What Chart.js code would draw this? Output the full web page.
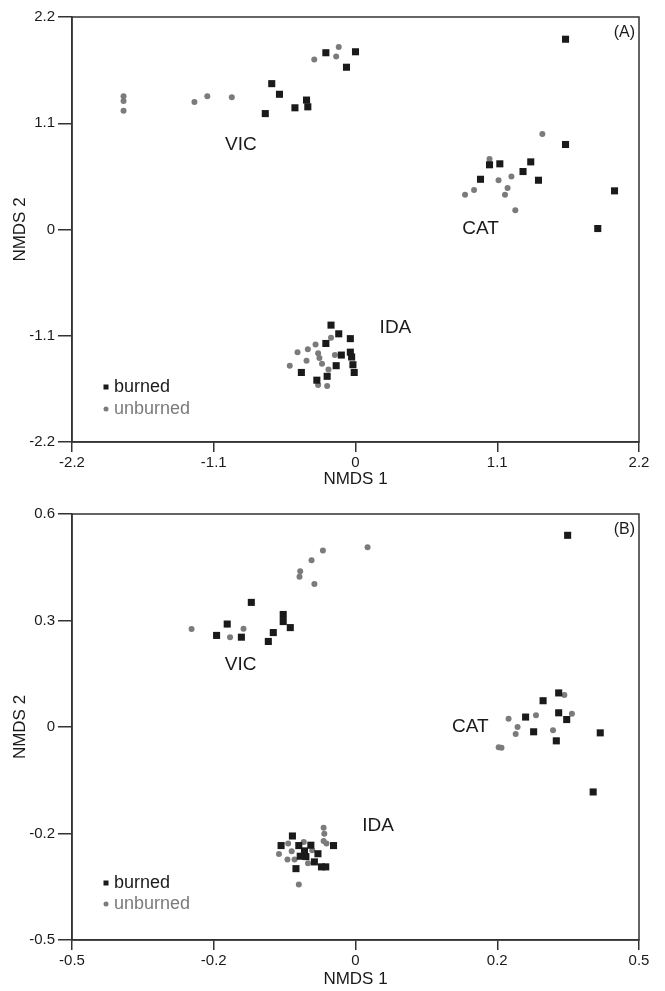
<!DOCTYPE html>
<html>
<head>
<meta charset="utf-8">
<script src="https://cdn.jsdelivr.net/npm/chart.js@4.4.1/dist/chart.umd.min.js"></script>
<style>
  body { margin: 0; background: #fff; }
  canvas { position: absolute; left: 0; }
  #chartA { top: 0; }
  #chartB { top: 495px; }
</style>
</head>
<body>
<canvas id="chartA" width="665" height="495"></canvas>
<canvas id="chartB" width="665" height="496"></canvas>
<script>
// panel A tick labels (linear axes)
const aTicks = [-2.2, -1.1, 0, 1.1, 2.2];

// panel B tick labels (equally spaced on the page, uneven values)
const bXTicks = [-0.5, -0.2, 0, 0.2, 0.5];
const bYTicks = [-0.5, -0.2, 0, 0.3, 0.6];

// panel A scores [NMDS 1, NMDS 2]
const burnedA = [
  // VIC
  [-0.23, 1.83], [0.0, 1.84], [-0.07, 1.68], [-0.65, 1.51], [-0.59, 1.40], [-0.70, 1.20], [-0.47, 1.26], [-0.38, 1.34], [-0.37, 1.27],
  // CAT
  [1.63, 1.97], [1.63, 0.88], [2.01, 0.40], [1.88, 0.01], [1.04, 0.67], [1.12, 0.68], [1.36, 0.70], [1.30, 0.60], [0.97, 0.52], [1.42, 0.51],
  // IDA
  [-0.19, -0.99], [-0.13, -1.08], [-0.04, -1.13], [-0.23, -1.18], [-0.04, -1.27], [-0.11, -1.30], [-0.03, -1.32], [-0.15, -1.41], [-0.02, -1.40], [-0.01, -1.48], [-0.42, -1.48], [-0.22, -1.52], [-0.30, -1.56]
];
const unburnedA = [
  // VIC
  [-1.80, 1.38], [-1.80, 1.33], [-1.80, 1.23], [-1.25, 1.32], [-1.15, 1.38], [-0.96, 1.37], [-0.32, 1.76], [-0.15, 1.79], [-0.13, 1.89],
  // CAT
  [1.45, 0.99], [1.04, 0.73], [1.11, 0.51], [1.21, 0.55], [1.18, 0.43], [1.16, 0.36], [1.24, 0.20], [0.92, 0.41], [0.85, 0.36],
  // IDA
  [-0.19, -1.12], [-0.31, -1.19], [-0.37, -1.24], [-0.45, -1.27], [-0.29, -1.28], [-0.28, -1.33], [-0.16, -1.30], [-0.38, -1.36], [-0.26, -1.39], [-0.51, -1.41], [-0.21, -1.45], [-0.29, -1.61], [-0.22, -1.62]
];

// panel B scores [NMDS 1, NMDS 2]
const burnedB = [
  // VIC
  [-0.147, 0.351], [-0.181, 0.290], [-0.196, 0.258], [-0.161, 0.253], [-0.102, 0.317], [-0.102, 0.297], [-0.092, 0.280], [-0.116, 0.266], [-0.123, 0.241],
  // CAT
  [0.349, 0.540], [0.330, 0.096], [0.297, 0.074], [0.330, 0.040], [0.347, 0.021], [0.260, 0.028], [0.277, -0.009], [0.325, -0.026], [0.418, -0.011], [0.403, -0.122],
  // IDA
  [-0.089, -0.207], [-0.105, -0.234], [-0.080, -0.234], [-0.063, -0.233], [-0.031, -0.234], [-0.072, -0.249], [-0.053, -0.257], [-0.078, -0.264], [-0.070, -0.265], [-0.058, -0.280], [-0.048, -0.294], [-0.042, -0.294], [-0.084, -0.299]
];
const unburnedB = [
  // VIC
  [0.017, 0.506], [-0.046, 0.497], [-0.062, 0.470], [-0.078, 0.439], [-0.079, 0.423], [-0.058, 0.403], [-0.247, 0.276], [-0.158, 0.277], [-0.177, 0.253],
  // CAT
  [0.342, 0.090], [0.358, 0.037], [0.282, 0.033], [0.224, 0.023], [0.243, 0.000], [0.239, -0.013], [0.318, -0.006], [0.203, -0.038], [0.209, -0.039],
  // IDA
  [-0.045, -0.189], [-0.044, -0.201], [-0.045, -0.221], [-0.041, -0.228], [-0.095, -0.228], [-0.073, -0.224], [-0.108, -0.258], [-0.090, -0.250], [-0.096, -0.273], [-0.086, -0.273], [-0.061, -0.247], [-0.067, -0.284], [-0.080, -0.344]
];

// site names and where they sit (in axis units)
const sitesA = [['VIC', -0.89, 0.88], ['CAT', 0.97, 0.01], ['IDA', 0.31, -1.02]];
const sitesB = [['VIC', -0.162, 0.176], ['CAT', 0.162, 0.0], ['IDA', 0.032, -0.186]];

const FONT = "'Liberation Sans', Arial, Helvetica, sans-serif";
const INK = '#1a1a1a';
const GREY = '#7b7b7b';

// place a value between uneven but equally spaced tick labels
function toPos(v, ticks) {
  for (let i = 0; i < ticks.length - 1; i++) {
    if (v <= ticks[i + 1] || i === ticks.length - 2) {
      return i + (v - ticks[i]) / (ticks[i + 1] - ticks[i]);
    }
  }
}

function makeChart(id, cfg) {
  const pts = arr => arr.map(p => ({ x: cfg.mapX(p[0]), y: cfg.mapY(p[1]) }));

  const frame = {
    id: 'frame',
    afterDraw(chart) {
      const { ctx, chartArea: a } = chart;
      ctx.save();
      ctx.strokeStyle = '#333';
      ctx.lineWidth = 1.5;
      ctx.strokeRect(a.left, a.top, a.right - a.left, a.bottom - a.top);
      ctx.restore();
    }
  };

  const notes = {
    id: 'notes',
    afterDatasetsDraw(chart) {
      const { ctx, chartArea: a, scales } = chart;
      ctx.save();
      ctx.textBaseline = 'middle';
      ctx.fillStyle = INK;
      ctx.textAlign = 'center';
      ctx.font = '19px ' + FONT;
      cfg.sites.forEach(s => {
        ctx.fillText(s[0], scales.x.getPixelForValue(cfg.mapX(s[1])), scales.y.getPixelForValue(cfg.mapY(s[2])));
      });

      ctx.textAlign = 'right';
      ctx.font = '16px ' + FONT;
      ctx.fillText(cfg.panel, a.right - 4, a.top + 16);

      // legend
      const lx = a.left + 34;
      ctx.textAlign = 'left';
      ctx.font = '18px ' + FONT;
      ctx.fillStyle = INK;
      ctx.fillRect(lx - 2.5, a.bottom - cfg.legY[0] - 2.5, 5, 5);
      ctx.fillText('burned', lx + 8, a.bottom - cfg.legY[0]);
      ctx.fillStyle = GREY;
      ctx.beginPath();
      ctx.arc(lx, a.bottom - cfg.legY[1], 2.5, 0, Math.PI * 2);
      ctx.fill();
      ctx.fillText('unburned', lx + 8, a.bottom - cfg.legY[1]);
      ctx.restore();
    }
  };

  const axisCommon = (tickLen) => ({
    type: 'linear',
    grid: { drawOnChartArea: false, drawTicks: true, tickLength: tickLen, color: '#333', lineWidth: 1.5 },
    border: { color: '#333', width: 1.5 },
  });

  return new Chart(document.getElementById(id), {
    type: 'scatter',
    data: {
      datasets: [
        {
          label: 'burned',
          data: pts(cfg.burned),
          pointStyle: 'rect',
          pointRadius: 5,
          backgroundColor: INK,
          borderWidth: 0
        },
        {
          label: 'unburned',
          data: pts(cfg.unburned),
          pointStyle: 'circle',
          pointRadius: 3,
          backgroundColor: GREY,
          borderWidth: 0
        }
      ]
    },
    options: {
      responsive: false,
      animation: false,
      devicePixelRatio: 1,
      layout: { padding: { top: cfg.top, right: 26, left: 0, bottom: 0 } },
      plugins: { legend: { display: false }, tooltip: { enabled: false } },
      scales: {
        x: {
          ...axisCommon(10),
          min: cfg.xTickPos[0],
          max: cfg.xTickPos[cfg.xTickPos.length - 1],
          afterBuildTicks: s => { s.ticks = cfg.xTickPos.map(v => ({ value: v })); },
          afterFit: s => { s.height = cfg.xAxisH; },
          ticks: {
            autoSkip: false, maxRotation: 0, padding: 2, color: INK,
            font: { family: FONT, size: 15 },
            callback: (v, i) => cfg.xLabels[i]
          },
          title: { display: true, text: 'NMDS 1', color: INK, font: { family: FONT, size: 17 }, padding: { bottom: cfg.titlePad } }
        },
        y: {
          ...axisCommon(14),
          min: cfg.yTickPos[0],
          max: cfg.yTickPos[cfg.yTickPos.length - 1],
          afterBuildTicks: s => { s.ticks = cfg.yTickPos.map(v => ({ value: v })); },
          afterFit: s => { s.width = 72; },
          ticks: {
            autoSkip: false, padding: 3, color: INK,
            font: { family: FONT, size: 15 },
            callback: (v, i) => cfg.yLabels[i]
          },
          title: { display: true, text: 'NMDS 2', color: INK, font: { family: FONT, size: 17 }, padding: { top: 10 } }
        }
      }
    },
    plugins: [frame, notes]
  });
}

makeChart('chartA', {
  burned: burnedA, unburned: unburnedA, sites: sitesA, panel: '(A)',
  mapX: v => v, mapY: v => v,
  xTickPos: aTicks, yTickPos: aTicks,
  xLabels: aTicks.map(String), yLabels: aTicks.map(String),
  top: 17, xAxisH: 53, titlePad: 5, legY: [55, 33]
});

makeChart('chartB', {
  burned: burnedB, unburned: unburnedB, sites: sitesB, panel: '(B)',
  mapX: v => toPos(v, bXTicks), mapY: v => toPos(v, bYTicks),
  xTickPos: bXTicks.map((_, i) => i), yTickPos: bYTicks.map((_, i) => i),
  xLabels: bXTicks.map(String), yLabels: bYTicks.map(String),
  top: 19, xAxisH: 51, titlePad: 1, legY: [57, 36]
});
</script>
</body>
</html>
